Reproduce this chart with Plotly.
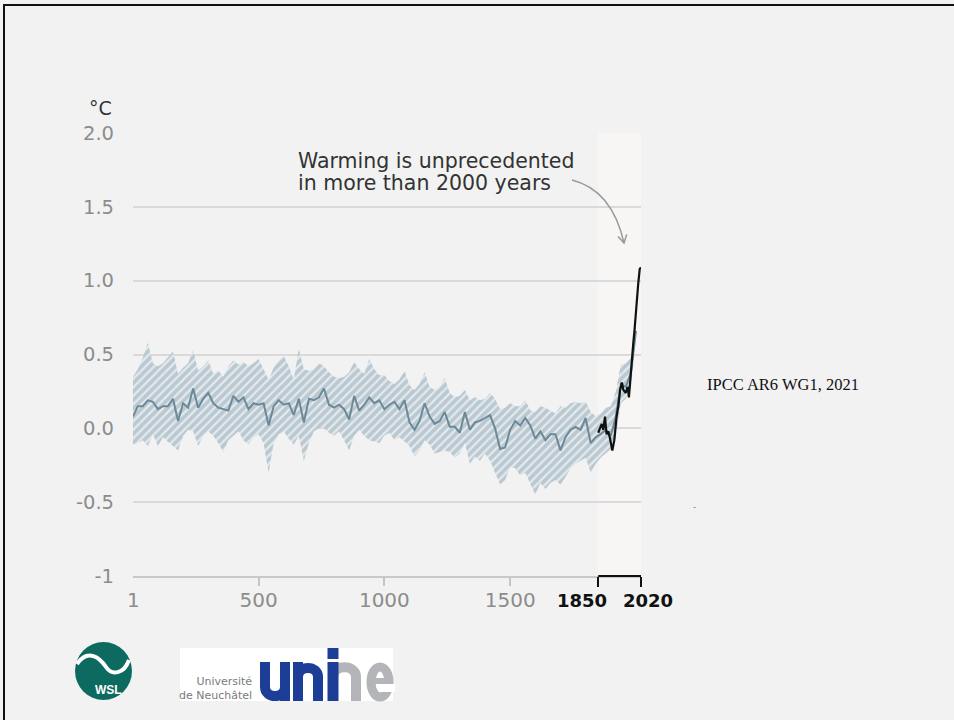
import plotly.graph_objects as go

# ---------------- data ----------------
years = [1] + list(range(20, 2001, 20))

median = [
    0.08, 0.15, 0.15, 0.19, 0.18, 0.13, 0.15, 0.15, 0.20, 0.05,
    0.17, 0.14, 0.27, 0.14, 0.20, 0.24, 0.17, 0.14, 0.13, 0.12,
    0.22, 0.18, 0.21, 0.13, 0.17, 0.16, 0.17, 0.02, 0.15, 0.19,
    0.16, 0.17, 0.09, 0.20, 0.04, 0.20, 0.19, 0.21, 0.27, 0.16,
    0.14, 0.16, 0.13, 0.06, 0.22, 0.12, 0.16, 0.21, 0.17, 0.19,
    0.13, 0.16, 0.18, 0.13, 0.19, 0.04, -0.01, 0.05, 0.17, 0.08,
    0.03, 0.05, 0.11, 0.01, 0.01, -0.03, 0.11, -0.01, 0.04, 0.05,
    0.07, 0.09, 0.00, -0.14, -0.13, -0.01, 0.05, 0.02, 0.07, 0.02,
    -0.07, -0.02, -0.08, -0.04, -0.04, -0.15, -0.06, -0.01, 0.01, -0.01,
    0.07, -0.10, -0.06, -0.04, -0.01, -0.05, 0.08, 0.30, 0.28, 0.38,
    0.66,
]

upper = [
    0.35, 0.40, 0.48, 0.58, 0.44, 0.42, 0.44, 0.48, 0.52, 0.37,
    0.41, 0.44, 0.53, 0.39, 0.42, 0.46, 0.37, 0.39, 0.35, 0.42,
    0.46, 0.43, 0.45, 0.42, 0.44, 0.47, 0.40, 0.33, 0.41, 0.46,
    0.49, 0.42, 0.33, 0.54, 0.40, 0.39, 0.40, 0.44, 0.42, 0.38,
    0.35, 0.34, 0.35, 0.38, 0.45, 0.40, 0.37, 0.47, 0.40, 0.36,
    0.36, 0.32, 0.30, 0.33, 0.39, 0.29, 0.26, 0.30, 0.38, 0.28,
    0.26, 0.28, 0.34, 0.24, 0.21, 0.22, 0.26, 0.19, 0.21, 0.19,
    0.20, 0.24, 0.20, 0.13, 0.14, 0.17, 0.15, 0.15, 0.19, 0.12,
    0.11, 0.15, 0.14, 0.12, 0.10, 0.15, 0.14, 0.17, 0.18, 0.17,
    0.18, 0.11, 0.08, 0.10, 0.14, 0.15, 0.25, 0.43, 0.44, 0.48,
    0.72,
]

lower = [
    -0.11, -0.10, -0.08, -0.12, -0.04, -0.12, -0.06, -0.09, -0.12, -0.15,
    -0.05, -0.01, -0.02, -0.12, -0.05, -0.02, -0.05, -0.10, -0.16, -0.08,
    -0.05, -0.02, -0.08, -0.11, -0.06, -0.04, -0.10, -0.30, -0.10, -0.04,
    -0.02, -0.07, -0.11, -0.05, -0.22, -0.10, -0.02, 0.00, 0.00, -0.03,
    -0.05, -0.02, -0.08, -0.15, -0.05, -0.01, -0.05, -0.08, -0.09, -0.10,
    -0.05, -0.03, -0.08, -0.06, -0.09, -0.12, -0.19, -0.15, -0.08, -0.11,
    -0.17, -0.16, -0.15, -0.16, -0.20, -0.17, -0.10, -0.24, -0.19, -0.22,
    -0.17, -0.22, -0.30, -0.38, -0.35, -0.26, -0.27, -0.32, -0.30, -0.38,
    -0.45, -0.37, -0.41, -0.37, -0.35, -0.38, -0.33, -0.27, -0.24, -0.22,
    -0.20, -0.30, -0.24, -0.20, -0.17, -0.14, -0.05, 0.17, 0.20, 0.28,
    0.60,
]

obs_years = [1850, 1857, 1864, 1870, 1877, 1883, 1890, 1897, 1906, 1914,
             1923, 1930, 1937, 1944, 1950, 1959, 1967, 1972, 1980, 1989,
             1995, 2002, 2009, 2015, 2020]
obs_values = [-0.03, 0.00, 0.03, -0.01, 0.08, -0.04, -0.02, -0.07, -0.15, -0.08,
              0.08, 0.15, 0.26, 0.31, 0.26, 0.24, 0.28, 0.21, 0.41, 0.57,
              0.68, 0.86, 0.98, 1.08, 1.09]

y_ticks = [2, 1.5, 1, 0.5, 0, -0.5, -1]
y_tick_labels = ["2.0", "1.5", "1.0", "0.5", "0.0", "-0.5", "-1"]
x_ticks = [500, 1000, 1500]
x_tick_labels = ["500", "1000", "1500"]
first_year = 1
bracket_years = [1850, 2020]
bracket_labels = ["1850", "2020"]

# ---------------- layout geometry ----------------
W, H = 954, 720
L, R, T, B = 133, 641, 133, 576


def px(x):
    return (x - L) / (R - L)


def py(y):
    return (B - y) / (B - T)


BG = "#f2f2f2"
GRID = "#dadada"
TICK_GRAY = "#8c8c8c"
FONT = "DejaVu Sans"

fig = go.Figure()

fig.add_trace(go.Scatter(x=years, y=lower, mode="lines", line=dict(width=0, color="rgba(0,0,0,0)"),
                         hoverinfo="skip", showlegend=False))
fig.add_trace(go.Scatter(x=years, y=upper, mode="lines", line=dict(width=0, color="rgba(0,0,0,0)"),
                         fill="tonexty", fillcolor="#b9c8d1",
                         fillpattern=dict(shape="/", fgcolor="#e4e9ec", bgcolor="#b9c8d1",
                                          size=6, solidity=0.38, fillmode="replace"),
                         hoverinfo="skip", showlegend=False))
fig.add_trace(go.Scatter(x=years, y=median, mode="lines", line=dict(width=2, color="#6c8999"),
                         showlegend=False))
fig.add_trace(go.Scatter(x=obs_years, y=obs_values, mode="lines", line=dict(width=2.2, color="#111111"),
                         xaxis="x2", showlegend=False))

shapes = []
# shaded instrumental period
shapes.append(dict(type="rect", xref="x", yref="y", x0=bracket_years[0], x1=bracket_years[1],
                   y0=-1, y1=2, fillcolor="#f7f6f4", line=dict(width=0), layer="below"))
# bracket bar on the axis
shapes.append(dict(type="line", xref="x", yref="paper", x0=bracket_years[0], x1=bracket_years[1],
                   y0=0, y1=0, line=dict(color="#111111", width=2)))

# curved arrow
ax0, ay0 = 572, 180
acx, acy = 612, 190
ax1, ay1 = 624, 243
shapes.append(dict(type="path", xref="paper", yref="paper",
                   path=f"M {px(ax0)},{py(ay0)} Q {px(acx)},{py(acy)} {px(ax1)},{py(ay1)}",
                   line=dict(color="#9a9a9a", width=1.5)))
shapes.append(dict(type="path", xref="paper", yref="paper",
                   path=f"M {px(618)},{py(236.4)} L {px(ax1)},{py(ay1)} L {px(626.7)},{py(234.4)}",
                   line=dict(color="#9a9a9a", width=1.5)))

# slide frame
shapes.append(dict(type="rect", xref="paper", yref="paper", x0=px(4), x1=px(962), y0=py(5), y1=py(730),
                   line=dict(color="#111111", width=2), fillcolor="rgba(0,0,0,0)"))

# WSL logo
TEAL = "#0d6a60"
shapes.append(dict(type="circle", xref="paper", yref="paper", x0=px(75), x1=px(132), y0=py(700), y1=py(642),
                   fillcolor=TEAL, line=dict(width=0)))
shapes.append(dict(type="path", xref="paper", yref="paper",
                   path=(f"M {px(77)},{py(664)} C {px(88)},{py(648)} {px(100)},{py(658)} {px(106)},{py(667)} "
                         f"C {px(112)},{py(676)} {px(124)},{py(674)} {px(129)},{py(660)}"),
                   line=dict(color="white", width=4)))

# unine logo
BLUE = "#1c3e96"
GRAYL = "#b4b5b9"
shapes.append(dict(type="rect", xref="paper", yref="paper", x0=px(180), x1=px(393), y0=py(701), y1=py(648),
                   fillcolor="white", line=dict(width=0)))
# gray "ne"
shapes.append(dict(type="path", xref="paper", yref="paper",
                   path=f"M {px(333)},{py(677)} C {px(333)},{py(664)} {px(356)},{py(664)} {px(356)},{py(677)} L {px(356)},{py(701)}",
                   line=dict(color=GRAYL, width=10)))
shapes.append(dict(type="circle", xref="paper", yref="paper", x0=px(371), x1=px(389), y0=py(697), y1=py(667),
                   fillcolor="rgba(0,0,0,0)", line=dict(color=GRAYL, width=9)))
shapes.append(dict(type="rect", xref="paper", yref="paper", x0=px(381), x1=px(395), y0=py(692), y1=py(684),
                   fillcolor="white", line=dict(width=0)))
shapes.append(dict(type="line", xref="paper", yref="paper", x0=px(367), x1=px(393), y0=py(681), y1=py(681),
                   line=dict(color=GRAYL, width=6)))
# blue "uni"
shapes.append(dict(type="path", xref="paper", yref="paper",
                   path=(f"M {px(265)},{py(662)} L {px(265)},{py(687)} C {px(265)},{py(699)} {px(285)},{py(699)} {px(285)},{py(687)} "
                         f"L {px(285)},{py(662)} M {px(285)},{py(680)} L {px(285)},{py(701)}"),
                   line=dict(color=BLUE, width=10)))
shapes.append(dict(type="path", xref="paper", yref="paper",
                   path=(f"M {px(298)},{py(701)} L {px(298)},{py(662)} M {px(298)},{py(677)} "
                         f"C {px(298)},{py(665)} {px(318)},{py(665)} {px(318)},{py(677)} L {px(318)},{py(701)}"),
                   line=dict(color=BLUE, width=10)))
shapes.append(dict(type="line", xref="paper", yref="paper", x0=px(333), x1=px(333), y0=py(701), y1=py(662),
                   line=dict(color=BLUE, width=11)))
shapes.append(dict(type="rect", xref="paper", yref="paper", x0=px(327.5), x1=px(338.5), y0=py(659), y1=py(648),
                   fillcolor=BLUE, line=dict(width=0)))

annotations = [
    dict(text="°C", xref="paper", yref="paper", x=px(114), y=py(108), xanchor="right", yanchor="middle",
         showarrow=False, font=dict(family=FONT, size=19, color="#333333")),
    dict(text=str(first_year), xref="x", yref="paper", x=first_year, y=py(600), xanchor="center", yanchor="middle",
         showarrow=False, font=dict(family=FONT, size=20, color=TICK_GRAY)),
    dict(text="<b>" + bracket_labels[0] + "</b>", xref="paper", yref="paper", x=px(582), y=py(600),
         xanchor="center", yanchor="middle", showarrow=False,
         font=dict(family=FONT, size=18, color="#111111")),
    dict(text="<b>" + bracket_labels[1] + "</b>", xref="paper", yref="paper", x=px(648), y=py(600),
         xanchor="center", yanchor="middle", showarrow=False,
         font=dict(family=FONT, size=18, color="#111111")),
    dict(text="Warming is unprecedented", xref="paper", yref="paper", x=px(296), y=py(161),
         xanchor="left", yanchor="middle", showarrow=False, font=dict(family=FONT, size=20.5, color="#333333")),
    dict(text="in more than 2000 years", xref="paper", yref="paper", x=px(296), y=py(183),
         xanchor="left", yanchor="middle", showarrow=False, font=dict(family=FONT, size=20.5, color="#333333")),
    dict(text="IPCC AR6 WG1, 2021", xref="paper", yref="paper", x=px(705), y=py(384),
         xanchor="left", yanchor="middle", showarrow=False,
         font=dict(family="Liberation Serif", size=16.5, color="#111111")),
    dict(text="-", xref="paper", yref="paper", x=px(694), y=py(507), xanchor="center", yanchor="middle",
         showarrow=False, font=dict(family="Liberation Sans", size=9, color="#777777")),
    dict(text="<b>WSL</b>", xref="paper", yref="paper", x=px(108), y=py(690), xanchor="center", yanchor="middle",
         showarrow=False, font=dict(family="Liberation Sans", size=12, color="white")),
    dict(text="Université<br>de Neuchâtel", xref="paper", yref="paper", x=px(254), y=py(688),
         xanchor="right", yanchor="middle", align="right", showarrow=False,
         font=dict(family="DejaVu Sans", size=11, color="#7b7b7b")),
]

fig.update_layout(
    width=W, height=H, autosize=False,
    margin=dict(l=L, r=W - R, t=T, b=H - B, pad=0),
    paper_bgcolor=BG, plot_bgcolor=BG,
    showlegend=False,
    xaxis=dict(range=[first_year, bracket_years[1]], domain=[0, 1], showgrid=False, zeroline=False,
               showline=True, linecolor="#c9c9c9", linewidth=1.5,
               tickmode="array", tickvals=x_ticks, ticktext=x_tick_labels, tickangle=0,
               ticks="outside", ticklen=8, tickwidth=1.5, tickcolor="#c4c4c4",
               ticklabelstandoff=-3,
               tickfont=dict(family=FONT, size=20, color=TICK_GRAY)),
    xaxis2=dict(range=[first_year, bracket_years[1]], overlaying="x", anchor="y", side="bottom",
                showgrid=False, zeroline=False, showline=False, showticklabels=False,
                tickmode="array", tickvals=bracket_years,
                ticks="outside", ticklen=10, tickwidth=2, tickcolor="#111111"),
    yaxis=dict(range=[-1, 2], showgrid=True, gridcolor=GRID, gridwidth=1.5, zeroline=False, showline=False,
               tickmode="array", tickvals=y_ticks, ticktext=y_tick_labels, ticks="",
               ticklabelstandoff=18,
               tickfont=dict(family=FONT, size=19.5, color=TICK_GRAY)),
    shapes=shapes,
    annotations=annotations,
)

fig.write_html("out.html", config={"displayModeBar": False},
               post_script="document.body.style.margin='0';")
